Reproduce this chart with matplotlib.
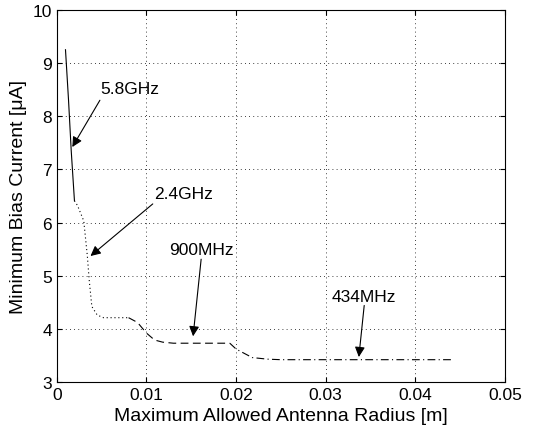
import matplotlib
matplotlib.use("Agg")
import matplotlib.pyplot as plt

plt.rcParams['font.family'] = ['Liberation Sans', 'DejaVu Sans']

# 5.8GHz (solid)
x_58 = [0.00096, 0.0013, 0.0016, 0.00196]
y_58 = [9.25, 8.3, 7.35, 6.41]

# 2.4GHz (dotted)
x_24 = [0.00196, 0.0023, 0.003, 0.0034, 0.0036, 0.0039, 0.0045, 0.0052, 0.0080]
y_24 = [6.41, 6.32, 6.03, 5.37, 4.93, 4.42, 4.26, 4.21, 4.21]

# 900MHz (dashed)
x_900 = [0.0080, 0.0090, 0.0100, 0.0109, 0.0118, 0.0130, 0.0193]
y_900 = [4.21, 4.12, 3.92, 3.79, 3.75, 3.73, 3.73]

# 434MHz (dash-dot)
x_434 = [0.0193, 0.0200, 0.0218, 0.0235, 0.0250, 0.0441]
y_434 = [3.73, 3.62, 3.46, 3.43, 3.42, 3.42]

labels = ['5.8GHz', '2.4GHz', '900MHz', '434MHz']
text_xy = [(0.0048, 8.53), (0.0108, 6.54), (0.0161, 5.5), (0.0343, 4.6)]
tail_xy = [(0.0048, 8.30), (0.0107, 6.35), (0.0161, 5.31), (0.0343, 4.44)]
tip_xy = [(0.00172, 7.42), (0.00375, 5.37), (0.0152, 3.86), (0.0337, 3.47)]

fig = plt.figure(figsize=(5.47, 4.35), dpi=100)
ax = fig.add_axes([0.104, 0.1195, 0.819, 0.8555])

ax.plot(x_58, y_58, '-', color='black', lw=0.8)
ax.plot(x_24, y_24, color='black', lw=0.8, dashes=(1, 2.5))
ax.plot(x_900, y_900, color='black', lw=0.8, dashes=(7, 4))
ax.plot(x_434, y_434, color='black', lw=0.8, dashes=(7, 3, 1, 3))

for lab, t, a, b in zip(labels, text_xy, tail_xy, tip_xy):
    ax.annotate('', xy=b, xytext=a,
                arrowprops=dict(arrowstyle='-|>', color='black', lw=0.8,
                                mutation_scale=15, shrinkA=0, shrinkB=0))
    ha = 'left' if lab in ('5.8GHz', '2.4GHz') else 'center'
    ax.text(t[0], t[1], lab, ha=ha, va='center', fontsize=12.5)

ax.set_xlim(0, 0.05)
ax.set_ylim(3, 10)
ax.set_xticks([0, 0.01, 0.02, 0.03, 0.04, 0.05])
ax.set_xticklabels(['0', '0.01', '0.02', '0.03', '0.04', '0.05'])
ax.set_yticks(range(3, 11))
ax.grid(True, color='black', lw=0.6, dashes=(1, 4))
ax.tick_params(direction='in', top=True, right=True, labelsize=12.5)
ax.set_xlabel('Maximum Allowed Antenna Radius [m]', fontsize=14)
ax.set_ylabel('Minimum Bias Current [\u03bcA]', fontsize=14)

fig.savefig('out.png', dpi=100)
